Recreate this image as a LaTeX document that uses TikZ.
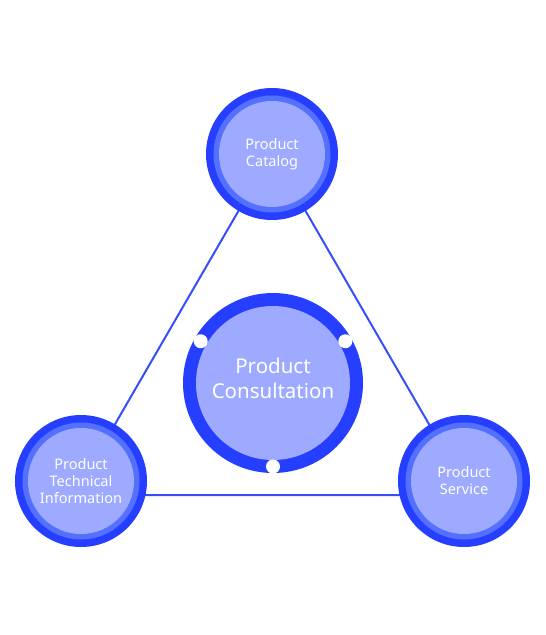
\documentclass[tikz,border=0pt]{standalone}
\usepackage{fontspec}
\setmainfont{Noto Sans}
\definecolor{ringdark}{RGB}{38,62,255}
\definecolor{ringmid}{RGB}{84,112,255}
\definecolor{corefill}{RGB}{158,170,255}
\definecolor{linkblue}{RGB}{52,78,250}
\tikzset{
  sat/.style={circle, fill=ringdark, minimum size=132pt, inner sep=0pt, align=center, text=white,
    font=\fontsize{14.5}{17}\selectfont,
    path picture={\fill[ringmid] (path picture bounding box.center) circle (58.5pt);
                  \fill[corefill] (path picture bounding box.center) circle (53pt);}},
  hub/.style={circle, fill=ringdark, minimum size=180pt, inner sep=0pt, align=center, text=white,
    font=\fontsize{20.5}{25}\selectfont, text depth=10pt,
    path picture={\fill[corefill] (path picture bounding box.center) circle (77pt);}},
  link/.style={draw=linkblue, line width=2pt}
}
\begin{document}
\begin{tikzpicture}[x=1pt,y=1pt]
\useasboundingbox (0,0) rectangle (546,-635);
% corners of the triangle
\coordinate (t1) at (272,-153);
\coordinate (t2) at (74,-495);
\coordinate (t3) at (470,-495);
\draw[link] (t1) -- (t2) -- (t3) -- cycle;

\node[hub] (hub) at (273,-383) {Product\\Consultation};
\foreach \a in {30,150,270}
{
	\fill[white] (hub.center) ++(\a:83.5) circle (7);
}

\node[sat] (catalog) at (272,-154) {Product\\Catalog};
\node[sat] (techinfo) at (81,-481) {Product\\Technical\\Information};
\node[sat] (service) at (464,-481) {Product\\Service};
\end{tikzpicture}
\end{document}
